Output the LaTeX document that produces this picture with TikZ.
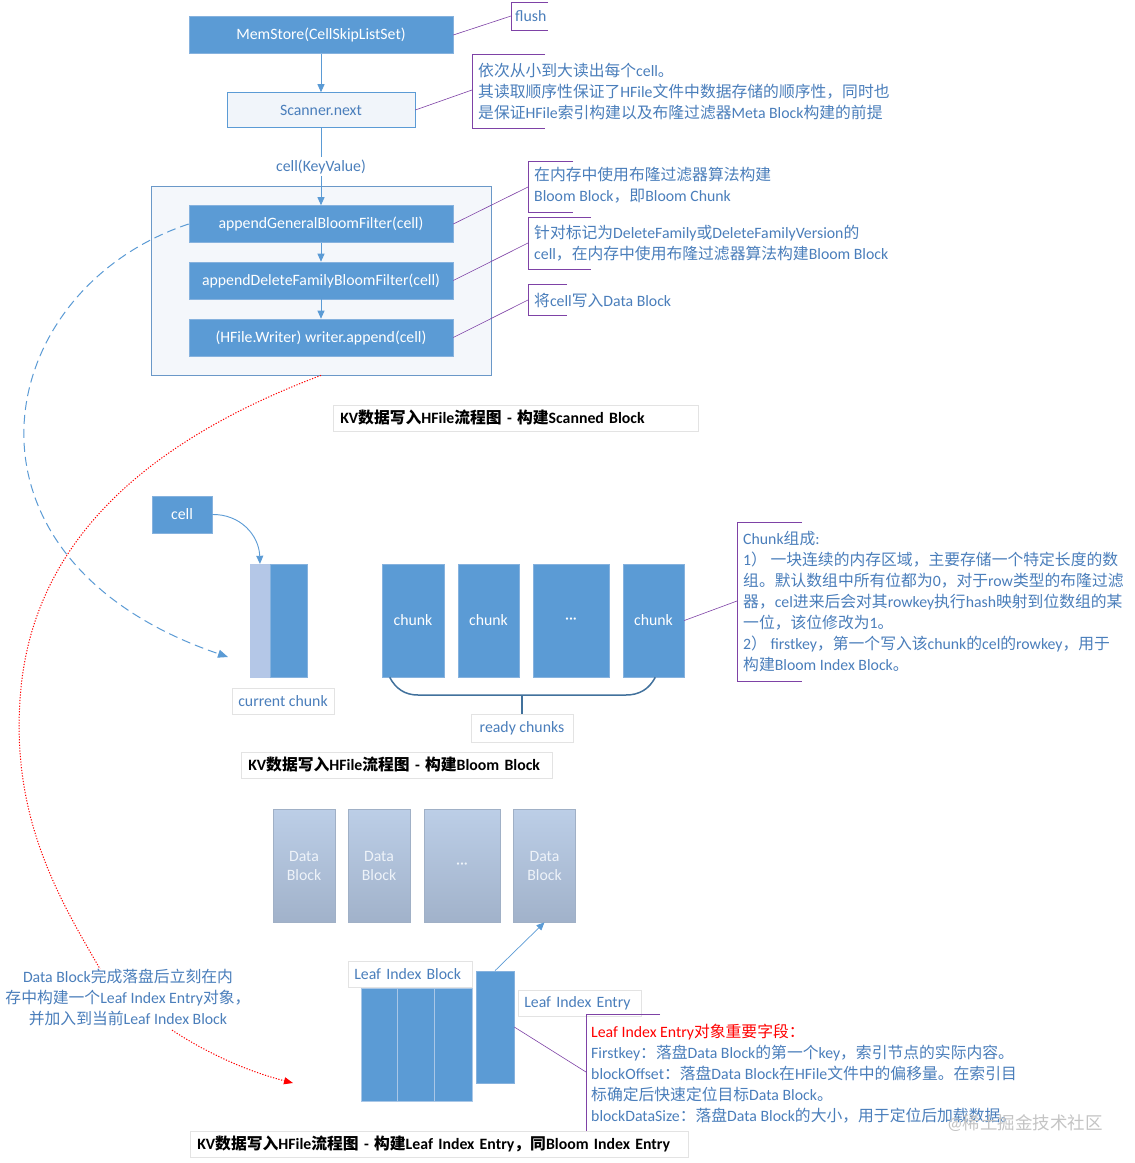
\documentclass[tikz,border=0pt]{standalone}
\usepackage{fontspec}
\setmainfont{Carlito}
\newfontfamily\cjk{Noto Sans CJK SC}
\usetikzlibrary{arrows.meta,calc}
% automatic switch to the CJK font for CJK characters
\newXeTeXintercharclass\cjkclass
\makeatletter
\def\setcjkrange#1#2{\count@=#1\relax
  \loop\XeTeXcharclass\count@=\cjkclass\relax
  \ifnum\count@<#2\relax\advance\count@\@ne\repeat}
\setcjkrange{"4E00}{"9FFF}
\setcjkrange{"3000}{"303F}
\setcjkrange{"FF00}{"FFEF}
\makeatother
\XeTeXinterchartoks 0 \cjkclass = {\cjk}
\XeTeXinterchartoks 4095 \cjkclass = {\cjk}
\XeTeXinterchartoks \cjkclass 0 = {\rmfamily}
\XeTeXinterchartoks \cjkclass 4095 = {\rmfamily}
\XeTeXinterchartokenstate=1

\definecolor{bfill}{HTML}{5B9BD5}
\definecolor{bedge}{HTML}{86B2DE}
\definecolor{ntext}{HTML}{4A7EBB}
\definecolor{npurple}{HTML}{7E42A6}
\definecolor{aline}{HTML}{5B9BD5}
\definecolor{bracecol}{HTML}{41719C}
\definecolor{contedge}{HTML}{6A98C8}
\definecolor{contfill}{HTML}{F4F7FB}
\definecolor{scanfill}{HTML}{F1F5FA}
\definecolor{lgray}{HTML}{E3E3E3}
\definecolor{lightcol}{HTML}{B4C7E7}
\definecolor{dtop}{HTML}{BCCEE7}
\definecolor{dbot}{HTML}{A1B2CA}
\definecolor{dedge}{HTML}{A0B0C6}
\definecolor{dtext}{HTML}{EEF3F9}
\definecolor{sepcol}{HTML}{A9C7E7}
\definecolor{wmark}{HTML}{C4C4C4}
\definecolor{redtext}{HTML}{FF0000}

\begin{document}
\begin{tikzpicture}[x=1pt,y=-1pt,
 every node/.style={font=\fontsize{15.8}{21}\selectfont},
 blk/.style={rectangle, fill=bfill, draw=bedge, line width=0.6pt, text=white, inner sep=0pt, minimum width=264pt, minimum height=37pt},
 col/.style={rectangle, fill=bfill, draw=bedge, line width=0.6pt, text=white, inner sep=0pt, minimum height=113pt},
 dblk/.style={rectangle, top color=dtop, bottom color=dbot, draw=dedge, line width=0.6pt, text=dtext, inner sep=0pt, minimum height=113pt, align=center, font=\fontsize{15.8}{19}\selectfont},
 lbl/.style={rectangle, fill=white, draw=lgray, line width=0.5pt, text=ntext, inner sep=0pt, minimum height=26pt},
 lbll/.style={lbl, anchor=west, align=left, inner xsep=6pt},
 captionbox/.style={rectangle, fill=white, draw=lgray, line width=0.5pt, text=black, anchor=west, align=left, inner xsep=7pt, inner ysep=0pt, minimum height=26pt, font=\fontsize{15.8}{21}\selectfont\bfseries},
 notetext/.style={text=ntext, anchor=west, align=left, inner sep=0pt},
 bracket/.style={draw=npurple, line width=0.8pt},
 link/.style={draw=npurple, line width=0.6pt},
 arr/.style={draw=aline, line width=0.9pt, -{Triangle[length=8pt,width=7pt]}},
 bluedash/.style={draw=aline, line width=1pt, dash pattern=on 9pt off 5pt, -{Triangle[length=10pt,width=8pt]}},
 reddot/.style={draw=red, line width=1pt, dash pattern=on 1.2pt off 1.6pt},
]
\fill[white] (0,0) rectangle (1135,1163);
\useasboundingbox (0,0) rectangle (1135,1163);

% ---------------- top: Scanned Block
\node[blk] (mem) at (321,35) {MemStore(CellSkipListSet)};
\node[rectangle, fill=scanfill, draw=aline, line width=0.6pt, text=ntext, minimum width=188pt, minimum height=35pt, inner sep=0pt] (scan) at (321,110) {Scanner.next};
\node[rectangle, fill=contfill, draw=contedge, line width=0.7pt, minimum width=340pt, minimum height=189pt, inner sep=0pt] (cont) at (321,280.5) {};
\node[blk] (ag) at (321,224) {appendGeneralBloomFilter(cell)};
\node[blk] (adf) at (321,280.5) {appendDeleteFamilyBloomFilter(cell)};
\node[blk] (wa) at (321,337.5) {(HFile.Writer) writer.append(cell)};
\draw[arr] (mem) -- (scan);
\draw[arr] (scan) -- node[fill=white, text=ntext, inner sep=2pt] (kv) {cell(KeyValue)} (ag);
\draw[arr] (ag) -- (adf);
\draw[arr] (adf) -- (wa);

\node[captionbox, text width=351pt] (cap1) at (333,418) {KV数据写入HFile流程图 - 构建Scanned Block};

% notes
\node[notetext] (nflush) at (515,16) {flush};
\draw[bracket] (548,2) -- (511,2) -- (511,30) -- (548,30);
\coordinate (kflush) at (511,16);
\draw[link] (mem.east) -- (kflush);

\node[notetext] (nscan) at (478,91) {依次从小到大读出每个cell。\\其读取顺序性保证了HFile文件中数据存储的顺序性，同时也\\是保证HFile索引构建以及布隆过滤器Meta Block构建的前提};
\draw[bracket] (545,54) -- (472,54) -- (472,128) -- (545,128);
\coordinate (kscan) at (472,90);
\draw[link] (scan.east) -- (kscan);

\node[notetext] (nag) at (534,185.5) {在内存中使用布隆过滤器算法构建\\Bloom Block，即Bloom Chunk};
\draw[bracket] (573,161) -- (528,161) -- (528,212) -- (573,212);
\coordinate (kag) at (528,187);
\draw[link] (ag.east) -- (kag);

\node[notetext] (nadf) at (534,243.5) {针对标记为DeleteFamily或DeleteFamilyVersion的\\cell，在内存中使用布隆过滤器算法构建Bloom Block};
\draw[bracket] (591,217) -- (528,217) -- (528,269) -- (591,269);
\coordinate (kadf) at (528,243);
\draw[link] (adf.east) -- (kadf);

\node[notetext] (nwa) at (534,300) {将cell写入Data Block};
\draw[bracket] (567,284) -- (528,284) -- (528,315) -- (567,315);
\coordinate (kwa) at (528,300);
\draw[link] (wa.east) -- (kwa);

% ---------------- middle: Bloom Block
\node[blk, minimum width=60pt] (cell) at (182,514.5) {cell};
\node[rectangle, fill=lightcol, draw=lightcol, minimum width=20pt, minimum height=113pt, inner sep=0pt] (ccl) at (260,620.5) {};
\node[col, minimum width=37pt] (ccb) at (288.5,620.5) {};
\draw[arr] (cell.east) .. controls (240,514) and (259,535) .. (ccl.north);
\node[lbl, minimum width=102pt] (curl) at (283,701) {current chunk};

\node[col, minimum width=62pt] (c1) at (413,620.5) {chunk};
\node[col, minimum width=61pt] (c2) at (488.5,620.5) {chunk};
\node[col, minimum width=76pt] (c3) at (571,620.5) {···};
\node[col, minimum width=61pt] (c4) at (653.5,620.5) {chunk};
\coordinate (brL) at ($(c1.south west)+(8,0)$);
\coordinate (brR) at ($(c4.south east)+(-29,0)$);
\coordinate (brM) at (522,695);
\node[lbl, minimum width=102pt, minimum height=28pt] (rc) at (522,728) {ready chunks};
\draw[bracecol, line width=1.5pt] (brL) to[out=-62,in=180] (418,695) -- (626,695) to[out=0,in=-118] (brR);
\draw[bracecol, line width=1.5pt] (brM) -- (rc.north);

\node[notetext] (nchunk) at (743,601) {Chunk组成:\\1） 一块连续的内存区域，主要存储一个特定长度的数\\组。默认数组中所有位都为0，对于row类型的布隆过滤\\器，cel进来后会对其rowkey执行hash映射到位数组的某\\一位，该位修改为1。\\2） firstkey，第一个写入该chunk的cel的rowkey，用于\\构建Bloom Index Block。};
\draw[bracket] (802,522) -- (737,522) -- (737,681) -- (802,681);
\coordinate (kchunk) at (737,601);
\draw[link] (c4.east) -- (kchunk);

\node[captionbox, text width=297pt] (cap2) at (241,765) {KV数据写入HFile流程图 - 构建Bloom Block};

% ---------------- bottom: Leaf Index Entry
\node[dblk, minimum width=62pt] (d1) at (304,865.5) {Data\\Block};
\node[dblk, minimum width=62pt] (d2) at (379,865.5) {Data\\Block};
\node[dblk, minimum width=76pt] (d3) at (462,865.5) {···};
\node[dblk, minimum width=62pt] (d4) at (544.5,865.5) {Data\\Block};

\node[col, minimum width=36.5pt, draw=sepcol] (l1) at (379.25,1044.5) {};
\node[col, minimum width=37pt, draw=sepcol] (l2) at (416,1044.5) {};
\node[col, minimum width=37.5pt, draw=sepcol] (l3) at (453.25,1044.5) {};
\node[col, minimum width=38pt, minimum height=112pt] (ent) at (495,1027) {};
\draw[arr, line width=0.7pt] (ent.north) -- (d4.south);

\node[lbll, text width=112pt] (libl) at (348,974) {Leaf Index Block};
\node[lbll, text width=111pt] (liel) at (518,1003) {Leaf Index Entry};

\node[notetext] (nent) at (591,1073.5) {{\color{redtext}Leaf Index Entry对象重要字段：}\\Firstkey：落盘Data Block的第一个key，索引节点的实际内容。\\blockOffset：落盘Data Block在HFile文件中的偏移量。在索引目\\标确定后快速定位目标Data Block。\\blockDataSize：落盘Data Block的大小，用于定位后加载数据。};
\draw[bracket] (660,1014) -- (586,1014) -- (586,1131) -- (660,1131);
\coordinate (kent) at (586,1072);
\draw[link] (ent.east) -- (kent);

\node[text=ntext, align=center, inner sep=0pt] (ln) at (128,997.5) {Data Block完成落盘后立刻在内\\存中构建一个Leaf Index Entry对象，\\并加入到当前Leaf Index Block};

\node[captionbox, text width=484pt] (cap3) at (190,1144) {KV数据写入HFile流程图 - 构建Leaf Index Entry，同Bloom Index Entry};

% ---------------- long curves
\coordinate (dashend) at (228,657);
\draw[bluedash] (ag.west) .. controls (-10,290) and (-62,558) .. (dashend);

\coordinate (r1) at ($(ln.north)+(-28,0)$);
\draw[reddot] (cont.south) .. controls (150,440) and (30,540) .. (20,700) .. controls (12,820) and (60,900) .. (r1);
\coordinate (r2) at ($(ln.south)+(44,4)$);
\coordinate (redend) at (293,1083);
\draw[reddot, -{Triangle[length=9pt,width=7pt]}] (r2) .. controls (210,1055) and (250,1072) .. (redend);

\node[text=wmark, font=\fontsize{17.5}{20}\selectfont, inner sep=0pt] (wm) at (1025,1123) {@稀土掘金技术社区};
\end{tikzpicture}
\end{document}
